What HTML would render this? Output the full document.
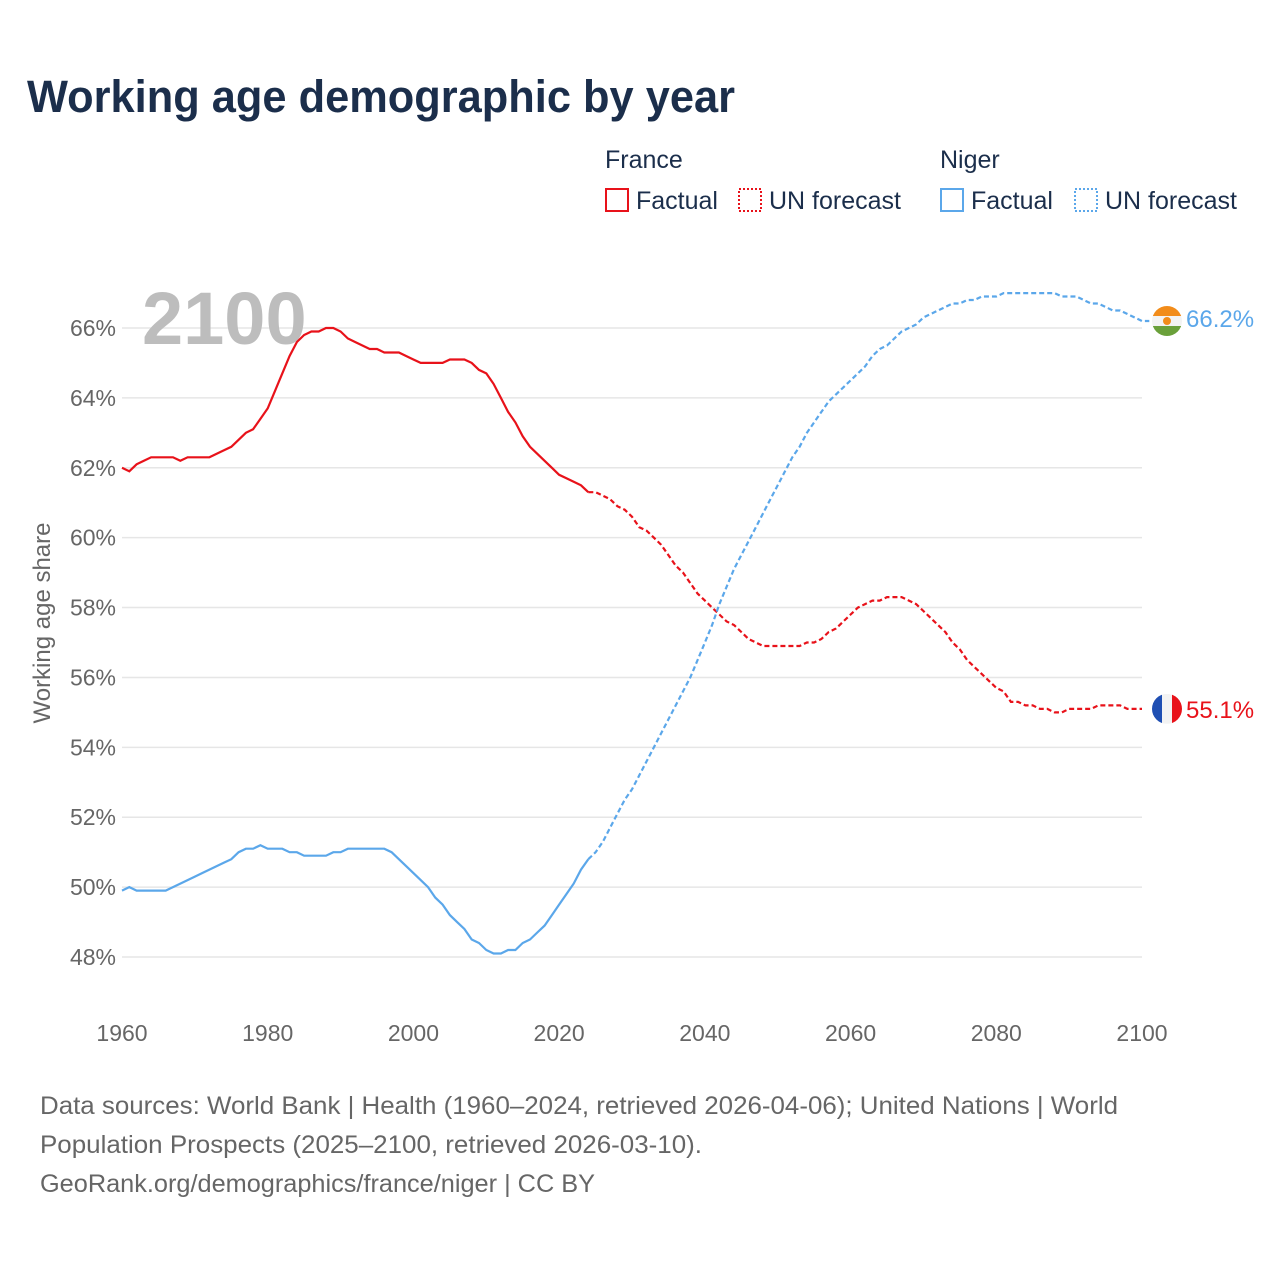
<!DOCTYPE html>
<html><head><meta charset="utf-8"><style>
body{margin:0;background:#fff;font-family:"Liberation Sans",sans-serif;}
#wrap{position:relative;width:1280px;height:1280px;}
</style></head><body>
<div id="wrap">
<svg id="chart" width="1280" height="1280" xmlns="http://www.w3.org/2000/svg">
<text x="27" y="112" font-size="45" font-weight="bold" fill="#1b2e4b" textLength="708" lengthAdjust="spacingAndGlyphs">Working age demographic by year</text>
<g font-size="25" fill="#1b2e4b">
<text x="605" y="168">France</text>
<text x="940" y="168">Niger</text>
<rect x="606" y="189" width="22" height="22" fill="none" stroke="#e8121a" stroke-width="2"/>
<text x="636" y="209">Factual</text>
<rect x="739" y="189" width="22" height="22" fill="none" stroke="#e8121a" stroke-width="2" stroke-dasharray="2,2"/>
<text x="769" y="209">UN forecast</text>
<rect x="941" y="189" width="22" height="22" fill="none" stroke="#5ba7ea" stroke-width="2"/>
<text x="971" y="209">Factual</text>
<rect x="1075" y="189" width="22" height="22" fill="none" stroke="#5ba7ea" stroke-width="2" stroke-dasharray="2,2"/>
<text x="1105" y="209">UN forecast</text>
</g>
<g id="grid"></g>
<text x="142" y="344" font-size="74" font-weight="bold" fill="#bdbdbd">2100</text>
<text transform="translate(50,623) rotate(-90)" text-anchor="middle" font-size="24" fill="#666">Working age share</text>
<g id="series"></g>
<g font-size="25" fill="#666">
<text x="40" y="1114" textLength="1078" lengthAdjust="spacingAndGlyphs">Data sources: World Bank | Health (1960–2024, retrieved 2026-04-06); United Nations | World</text>
<text x="40" y="1153" textLength="662" lengthAdjust="spacingAndGlyphs">Population Prospects (2025–2100, retrieved 2026-03-10).</text>
<text x="40" y="1192" textLength="555" lengthAdjust="spacingAndGlyphs">GeoRank.org/demographics/france/niger | CC BY</text>
</g>
</svg>
</div>
<script>
const yTicks=[48,50,52,54,56,58,60,62,64,66];
const xTicks=[1960,1980,2000,2020,2040,2060,2080,2100];
const franceFactual=[62.0,61.9,62.1,62.2,62.3,62.3,62.3,62.3,62.2,62.3,62.3,62.3,62.3,62.4,62.5,62.6,62.8,63.0,63.1,63.4,63.7,64.2,64.7,65.2,65.6,65.8,65.9,65.9,66.0,66.0,65.9,65.7,65.6,65.5,65.4,65.4,65.3,65.3,65.3,65.2,65.1,65.0,65.0,65.0,65.0,65.1,65.1,65.1,65.0,64.8,64.7,64.4,64.0,63.6,63.3,62.9,62.6,62.4,62.2,62.0,61.8,61.7,61.6,61.5,61.3];
const franceForecast=[61.3,61.2,61.1,60.9,60.8,60.6,60.3,60.2,60.0,59.8,59.5,59.2,59.0,58.7,58.4,58.2,58.0,57.8,57.6,57.5,57.3,57.1,57.0,56.9,56.9,56.9,56.9,56.9,56.9,57.0,57.0,57.1,57.3,57.4,57.6,57.8,58.0,58.1,58.2,58.2,58.3,58.3,58.3,58.2,58.1,57.9,57.7,57.5,57.3,57.0,56.8,56.5,56.3,56.1,55.9,55.7,55.6,55.3,55.3,55.2,55.2,55.1,55.1,55.0,55.0,55.1,55.1,55.1,55.1,55.2,55.2,55.2,55.2,55.1,55.1,55.1];
const nigerFactual=[49.9,50.0,49.9,49.9,49.9,49.9,49.9,50.0,50.1,50.2,50.3,50.4,50.5,50.6,50.7,50.8,51.0,51.1,51.1,51.2,51.1,51.1,51.1,51.0,51.0,50.9,50.9,50.9,50.9,51.0,51.0,51.1,51.1,51.1,51.1,51.1,51.1,51.0,50.8,50.6,50.4,50.2,50.0,49.7,49.5,49.2,49.0,48.8,48.5,48.4,48.2,48.1,48.1,48.2,48.2,48.4,48.5,48.7,48.9,49.2,49.5,49.8,50.1,50.5,50.8];
const nigerForecast=[51.0,51.3,51.7,52.1,52.5,52.8,53.2,53.6,54.0,54.4,54.8,55.2,55.6,56.0,56.5,57.0,57.5,58.1,58.6,59.1,59.5,59.9,60.3,60.7,61.1,61.5,61.9,62.3,62.6,63.0,63.3,63.6,63.9,64.1,64.3,64.5,64.7,64.9,65.2,65.4,65.5,65.7,65.9,66.0,66.1,66.3,66.4,66.5,66.6,66.7,66.7,66.8,66.8,66.9,66.9,66.9,67.0,67.0,67.0,67.0,67.0,67.0,67.0,67.0,66.9,66.9,66.9,66.8,66.7,66.7,66.6,66.5,66.5,66.4,66.3,66.2,66.2];
const NS="http://www.w3.org/2000/svg";
const X=y=>122+(y-1960)*(1020/140);
const Y=v=>328+(66-v)*(629/18);
const grid=document.getElementById('grid'),ser=document.getElementById('series');
function mk(t,a,p){const e=document.createElementNS(NS,t);for(const k in a)e.setAttribute(k,a[k]);p.appendChild(e);return e;}
yTicks.forEach(v=>{
 const l=mk('line',{x1:122,x2:1142,y1:Y(v),y2:Y(v),stroke:'#e6e6e6','stroke-width':1.5},grid);
 
 
 const t=mk('text',{x:116,y:Y(v)+8,'text-anchor':'end','font-size':23,fill:'#666'},grid);t.textContent=v+'%';
 
 
});
xTicks.forEach(v=>{
 const t=mk('text',{x:X(v),y:1041,'text-anchor':'middle','font-size':23,fill:'#666'},grid);t.textContent=v;
 
 
});
function line(arr,start,color,dash,name){
 const d=arr.map((v,i)=>(i?'L':'M')+X(start+i).toFixed(1)+' '+Y(v).toFixed(1)).join(' ');
 const p=mk('path',{d:d,fill:'none',stroke:color,'stroke-width':2.2},ser);
 if(dash)p.setAttribute('stroke-dasharray','5,3');
 
 
}
line(franceFactual,1960,'#e8121a',false,'france-factual-line');
line([franceFactual[franceFactual.length-1]].concat(franceForecast),2024,'#e8121a',true,'france-forecast-line');
line(nigerFactual,1960,'#5ba7ea',false,'niger-factual-line');
line([nigerFactual[nigerFactual.length-1]].concat(nigerForecast),2024,'#5ba7ea',true,'niger-forecast-line');
const fy=Y(franceForecast[franceForecast.length-1]), ny=Y(nigerForecast[nigerForecast.length-1]);
const ff=mk('g',{},ser);


mk('clipPath',{id:'cf'},ff).appendChild(document.createElementNS(NS,'circle'));
const cf=document.querySelector('#cf circle');cf.setAttribute('cx',1167);cf.setAttribute('cy',fy);cf.setAttribute('r',15);
mk('rect',{x:1152,y:fy-15,width:10,height:30,fill:'#1f4fb3','clip-path':'url(#cf)'},ff);
mk('rect',{x:1162,y:fy-15,width:10,height:30,fill:'#f3f3f3','clip-path':'url(#cf)'},ff);
mk('rect',{x:1172,y:fy-15,width:10,height:30,fill:'#e8121a','clip-path':'url(#cf)'},ff);
const nf=mk('g',{},ser);


mk('clipPath',{id:'cn'},nf).appendChild(document.createElementNS(NS,'circle'));
const cn=document.querySelector('#cn circle');cn.setAttribute('cx',1167);cn.setAttribute('cy',ny);cn.setAttribute('r',15);
mk('rect',{x:1152,y:ny-15,width:30,height:10,fill:'#f28c1a','clip-path':'url(#cn)'},nf);
mk('rect',{x:1152,y:ny-5,width:30,height:10,fill:'#f3f3f3','clip-path':'url(#cn)'},nf);
mk('rect',{x:1152,y:ny+5,width:30,height:10,fill:'#6aa03a','clip-path':'url(#cn)'},nf);
mk('circle',{cx:1167,cy:ny,r:4,fill:'#f28c1a'},nf);
const tf=mk('text',{x:1186,y:fy+9,'font-size':24,fill:'#e8121a'},ser);tf.textContent=franceForecast[franceForecast.length-1].toFixed(1)+'%';


const tn=mk('text',{x:1186,y:ny+6,'font-size':24,fill:'#5ba7ea'},ser);tn.textContent=nigerForecast[nigerForecast.length-1].toFixed(1)+'%';


</script>
</body></html>
